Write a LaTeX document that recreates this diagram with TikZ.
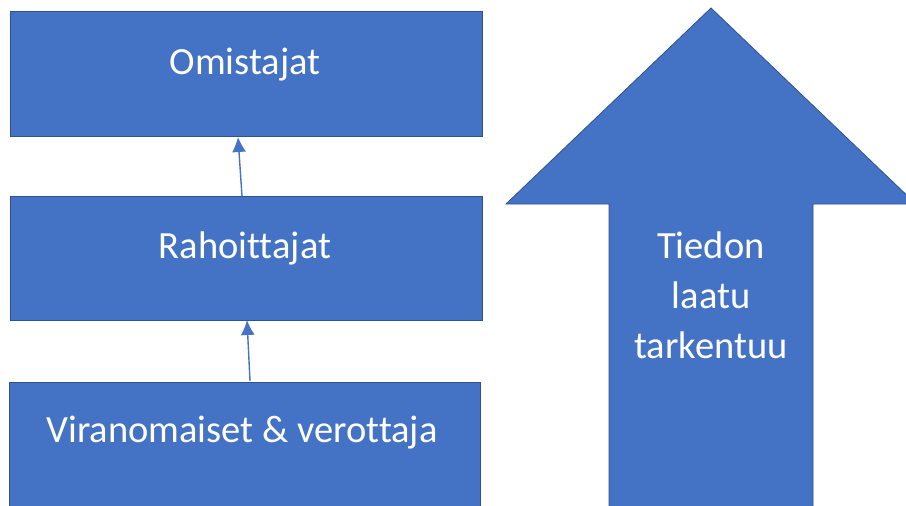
\documentclass[tikz,border=0pt]{standalone}
\usepackage{fontspec}
\setmainfont{Carlito}[Ligatures=CommonOff]
\usetikzlibrary{arrows.meta}
\definecolor{boxblue}{HTML}{4472C4}
\definecolor{boxedge}{HTML}{2F528F}
\begin{document}
\begin{tikzpicture}[x=1pt,y=-1pt,
  bluebox/.style={fill=boxblue,draw=boxedge,line width=0.8pt},
  lbl/.style={text=white,font=\fontsize{38.5}{50}\selectfont,anchor=base,inner sep=0pt},
  conn/.style={draw=boxblue,line width=1.4pt,-{Latex[length=15pt,width=14pt]}}]
\useasboundingbox (0,0) rectangle (906,506);
\path[bluebox] (10,11) rectangle (482,136);
\path[bluebox] (10,196) rectangle (482,320);
\path[bluebox] (9,382) rectangle (480,510);
\node[lbl] (om) at (245,74) {Omistajat};
\node[lbl] (ra) at (245,258) {Rahoittajat};
\node[lbl] (vi) at (242,442) {Viranomaiset \& verottaja};
\coordinate (a1s) at (242,196);
\coordinate (a1e) at (238,137);
\coordinate (a2s) at (250,381);
\coordinate (a2e) at (247,320);
\draw[conn] (a1s) -- (a1e);
\draw[conn] (a2s) -- (a2e);
\path[bluebox] (609,510) -- (609,204) -- (506,204) -- (711,8) -- (916,204) -- (813,204) -- (813,510) -- cycle;
\node[lbl] (td1) at (711,258) {Tiedon};
\node[lbl] (td2) at (711,308) {laatu};
\node[lbl] (td3) at (711,358) {tarkentuu};
\end{tikzpicture}
\end{document}
